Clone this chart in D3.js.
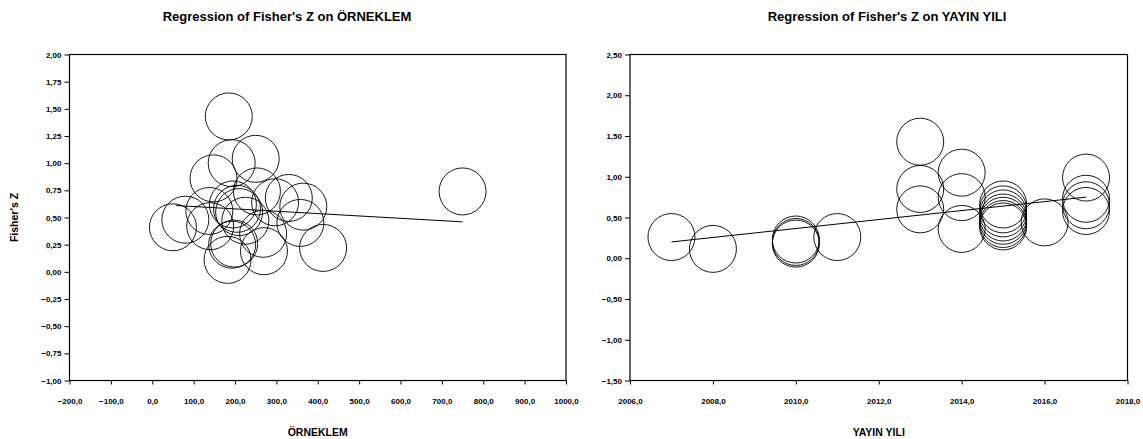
<!DOCTYPE html>
<html>
<head>
<meta charset="utf-8">
<script src="https://cdn.jsdelivr.net/npm/d3@7"></script>
<style>
  body { margin: 0; background: #fff; }
  text { font-family: Arial, "Liberation Sans", sans-serif; font-weight: bold; fill: #000; }
</style>
</head>
<body>
<div id="chartCont"></div>
<script>
// ÖRNEKLEM (sample size) vs Fisher's Z, one value per study
let sampleX = [50, 80, 138, 140, 148, 185, 192, 182, 250, 253, 205, 195,
  210, 297, 330, 365, 358, 268, 198, 193, 270, 413, 750, 225];
let sampleZ = [0.41, 0.48, 0.56, 0.42, 0.86, 1.43, 1.00, 0.11, 1.04, 0.74, 0.58, 0.62,
  0.55, 0.64, 0.68, 0.60, 0.45, 0.35, 0.26, 0.25, 0.19, 0.22, 0.74, 0.47];

// YAYIN YILI (publication year) vs Fisher's Z
let yearX = [2007, 2008, 2010, 2010, 2010, 2011, 2013, 2013, 2013, 2014, 2014, 2014,
  2015, 2015, 2015, 2015, 2015, 2015, 2015, 2016, 2017, 2017, 2017, 2017];
let yearZ = [0.26, 0.115, 0.23, 0.20, 0.18, 0.26, 1.43, 0.85, 0.60, 1.05, 0.75, 0.36,
  0.66, 0.60, 0.55, 0.50, 0.46, 0.42, 0.39, 0.44, 0.99, 0.73, 0.65, 0.58];

// fitted regression lines, end points
let sampleFit = [[58, 0.61], [750, 0.46]];
let yearFit = [[2007, 0.20], [2017, 0.75]];

let sampleTicksX = [-200, -100, 0, 100, 200, 300, 400, 500, 600, 700, 800, 900, 1000];
let sampleTicksY = [-1, -0.75, -0.5, -0.25, 0, 0.25, 0.5, 0.75, 1, 1.25, 1.5, 1.75, 2];
let yearTicksX = [2006, 2008, 2010, 2012, 2014, 2016, 2018];
let yearTicksY = [-1.5, -1, -0.5, 0, 0.5, 1, 1.5, 2, 2.5];

(function() {
  let width = 1143,
    height = 439;

  let svg = d3.select("#chartCont")
    .append("svg")
    .attr("width", width)
    .attr("height", height);

  // comma as decimal mark, like the original
  let trLocale = d3.formatLocale({decimal: ",", thousands: ".", grouping: [3], currency: ["", ""]});

  let top = 54.5, bottom = 380.5, radius = 23.5;

  function drawPanel(opt) {
    let x = d3.scaleLinear().domain(d3.extent(opt.ticksX)).range([opt.left, opt.right]);
    let y = d3.scaleLinear().domain(d3.extent(opt.ticksY)).range([bottom, top]);

    let g = svg.append("g");

    g.append("text")
      .attr("x", opt.titleX)
      .attr("y", 21)
      .attr("text-anchor", "middle")
      .style("font-size", "13px")
      .text(opt.title);

    g.append("g")
      .attr("transform", "translate(" + opt.left + ",0)")
      .call(d3.axisLeft(y).tickValues(opt.ticksY).tickSize(5).tickPadding(3)
        .tickFormat(trLocale.format(".2f")))
      .call(function(a) { a.select(".domain").remove(); })
      .selectAll("text")
      .style("font-size", "8px");

    g.append("g")
      .attr("transform", "translate(0," + bottom + ")")
      .call(d3.axisBottom(x).tickValues(opt.ticksX).tickSize(4).tickPadding(14)
        .tickFormat(trLocale.format(".1f")))
      .call(function(a) { a.select(".domain").remove(); })
      .selectAll("text")
      .style("font-size", "8px");

    g.selectAll(".tick line").attr("stroke", "#000");
    g.selectAll(".tick text").style("font-family", "Arial, 'Liberation Sans', sans-serif");

    // plot frame
    g.append("rect")
      .attr("x", opt.left)
      .attr("y", top)
      .attr("width", opt.right - opt.left)
      .attr("height", bottom - top)
      .attr("fill", "none")
      .attr("stroke", "#000")
      .attr("stroke-width", 1.2);

    let pts = opt.xs.map(function(d, i) { return {x: d, z: opt.zs[i]}; });

    g.selectAll("circle")
      .data(pts)
      .enter().append("circle")
      .attr("cx", function(d) { return x(d.x); })
      .attr("cy", function(d) { return y(d.z); })
      .attr("r", radius)
      .attr("fill", "none")
      .attr("stroke", "#000")
      .attr("stroke-width", 0.9);

    g.append("path")
      .datum(opt.fit)
      .attr("fill", "none")
      .attr("stroke", "#000")
      .attr("stroke-width", 1)
      .attr("d", d3.line()
        .x(function(d) { return x(d[0]); })
        .y(function(d) { return y(d[1]); }));

    g.append("text")
      .attr("x", (opt.left + opt.right) / 2)
      .attr("y", 436)
      .attr("text-anchor", "middle")
      .style("font-size", "10.5px")
      .text(opt.xTitle);

    if (opt.yTitle) {
      g.append("text")
        .attr("transform", "translate(18," + (top + bottom) / 2 + ") rotate(-90)")
        .attr("text-anchor", "middle")
        .style("font-size", "10.5px")
        .text(opt.yTitle);
    }
  }

  drawPanel({
    left: 69.5, right: 566, titleX: 287,
    title: "Regression of Fisher's Z on ÖRNEKLEM",
    xTitle: "ÖRNEKLEM", yTitle: "Fisher's Z",
    ticksX: sampleTicksX, ticksY: sampleTicksY,
    xs: sampleX, zs: sampleZ, fit: sampleFit
  });

  drawPanel({
    left: 630, right: 1127.5, titleX: 887,
    title: "Regression of Fisher's Z on YAYIN YILI",
    xTitle: "YAYIN YILI", yTitle: null,
    ticksX: yearTicksX, ticksY: yearTicksY,
    xs: yearX, zs: yearZ, fit: yearFit
  });
})();
</script>
</body>
</html>
